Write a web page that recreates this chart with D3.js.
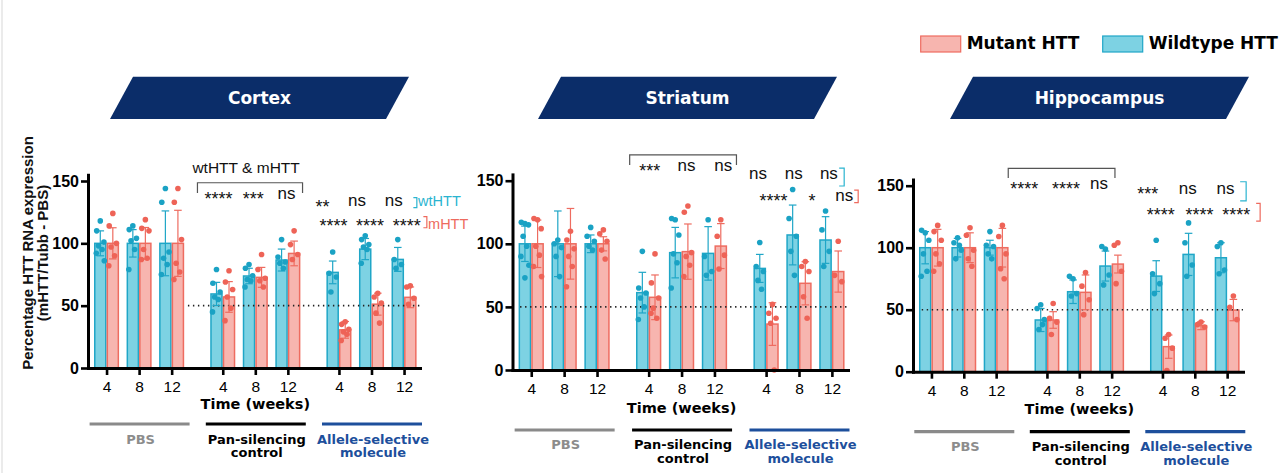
<!DOCTYPE html>
<html>
<head>
<meta charset="utf-8">
<script src="https://cdn.jsdelivr.net/npm/d3@7"></script>
<style>
  body { margin: 0; background: #fff; }
  svg { display: block; }
</style>
</head>
<body>
<svg id="chart" width="1281" height="473"></svg>
<script>
// ---------------- data ----------------
const regions = ["Cortex", "Striatum", "Hippocampus"];
const groups = ["PBS", "Pan-silencing control", "Allele-selective molecule"];
const groupLines = [["PBS"], ["Pan-silencing", "control"], ["Allele-selective", "molecule"]];
const weeks = ["4", "8", "12"];
const yTicks = [0, 50, 100, 150];
const seriesNames = ["Mutant HTT", "Wildtype HTT"];

// bar heights (mean %), one per group x week, in order PBS 4/8/12, Pan 4/8/12, Allele 4/8/12
const cortexWtMean = [100, 100, 100, 59.4, 73.8, 86.6, 76.7, 95.4, 87.1];
const cortexMutMean = [100, 100, 100, 57, 72.7, 91.9, 30.6, 51.2, 56.7];
const cortexWtSd = [10, 11, 26, 9.3, 6.2, 8.8, 9.1, 8.5, 9.6];
const cortexMutSd = [12.5, 12.7, 26.5, 12.3, 8, 9.9, 6.7, 8.8, 8.3];
const cortexWtPts = [
  [118, 110, 101, 98, 95, 92, 86], [114, 111, 104, 102, 95, 79], [144, 133, 93, 88, 83, 75],
  [79, 68, 61, 57, 55, 45], [83, 80, 74, 71, 70, 65], [103, 89, 85, 84, 80],
  [93, 76, 73, 61], [106, 103, 99, 97, 95, 84], [103, 87, 83, 80]
];
const cortexMutPts = [
  [124, 114, 100, 97, 90, 82], [119, 112, 110, 95, 88, 87], [144, 133, 103, 84, 77, 71],
  [78, 69, 63, 57, 48, 38], [91, 79, 72, 70, 65], [110, 99, 91, 87],
  [37, 35, 31, 29, 27, 22], [60, 57, 52, 44, 36], [66, 65, 56, 51]
];

const striatumWtMean = [100, 100, 100, 61.3, 93, 92.4, 80.5, 107, 103];
const striatumMutMean = [100, 100, 100, 57.6, 93.8, 98.2, 36.4, 68.7, 78];
const striatumWtSd = [14, 26, 7, 16.1, 20, 21.2, 11.1, 23.7, 18.5];
const striatumMutSd = [18.8, 28, 5.6, 17.7, 21.9, 17.8, 16.9, 17.1, 16.3];
const striatumWtPts = [
  [116, 117, 115, 106, 98, 90, 83, 73], [103, 100, 97, 90, 74], [113, 106, 102, 98, 95],
  [94, 65, 61, 57, 50, 40], [119, 120, 107, 92, 85, 65], [119, 90, 78, 75],
  [101, 82, 78, 71, 64], [143, 120, 106, 94, 75], [126, 111, 94, 82]
];
const striatumMutPts = [
  [119, 120, 112, 98, 91, 82, 74], [110, 103, 96, 90, 82, 66], [111, 108, 102, 95, 88],
  [92, 69, 57, 49, 41, 45], [130, 125, 93, 90, 83, 74], [119, 106, 91, 80],
  [52, 45, 41, 37, 0], [86, 82, 78, 58, 41], [102, 75, 70]
];

const hippocampusWtMean = [100, 100, 100, 41.7, 64.5, 85.2, 77.1, 94.6, 91.9];
const hippocampusMutMean = [100, 100, 100, 41.7, 64, 86.8, 20.2, 37.1, 49.7];
const hippocampusWtSd = [13, 7.5, 6, 9.3, 9.5, 12.1, 12.4, 17, 12.1];
const hippocampusMutSd = [14.8, 12, 15.6, 6.7, 14, 7.2, 9.4, 3.2, 8.6];
const hippocampusWtPts = [
  [112, 114, 106, 95, 81, 77], [108, 104, 98, 91, 102], [113, 102, 101, 95, 91],
  [54, 51, 42, 34, 38], [75, 77, 63, 61], [99, 101, 78, 70],
  [106, 79, 71, 63], [120, 104, 86, 77], [104, 101, 82, 79]
];
const hippocampusMutPts = [
  [118, 113, 106, 95, 87, 81], [116, 110, 98, 91, 85], [118, 109, 95, 83, 75],
  [55, 43, 40, 30], [80, 69, 58, 46], [104, 102, 81, 71],
  [30, 27, 19, 1], [40, 38, 36], [61, 52, 42]
];

// significance labels: pan-silencing vs PBS (both alleles), allele-selective wt row, allele-selective mutant row
const cortexPanSig = ["****", "***", "ns"];
const cortexWtSig = ["**", "ns", "ns"];
const cortexMutSig = ["****", "****", "****"];
const striatumPanSig = ["***", "ns", "ns"];
const striatumWtSig = ["ns", "ns", "ns"];
const striatumMutSig = ["****", "*", "ns"];
const hippocampusPanSig = ["****", "****", "ns"];
const hippocampusWtSig = ["***", "ns", "ns"];
const hippocampusMutSig = ["****", "****", "****"];

// ---------------- styles ----------------
const C = {
  wtFill: "#7dd2e3", wtStroke: "#1fa6c7", wtDot: "#1aa2c4", wtText: "#2ab4d0",
  mutFill: "#f7b5af", mutStroke: "#ee6c60", mutDot: "#ee6357", mutText: "#ee6a5e",
  navy: "#0b2d69", gray: "#8c8c8c", allele: "#1d4f9c", bracket: "#555"
};
const NUM_FONT = "'Liberation Sans', Arial, sans-serif";
const BOLD_FONT = "'DejaVu Sans', Verdana, sans-serif";

// ---------------- layout ----------------
const panels = [
  {
    name: "Cortex", left: 88, right: 420, y0: 368, y150: 181, dotFrom: 3.07,
    wtMean: cortexWtMean, mutMean: cortexMutMean, wtSd: cortexWtSd, mutSd: cortexMutSd,
    wtPts: cortexWtPts, mutPts: cortexMutPts,
    panSig: cortexPanSig, wtSig: cortexWtSig, mutSig: cortexMutSig,
    banner: { cx: 259.5 },
    under: { time: 41, line: 56, l1: 76, l2: 89 },
    ann: {
      bracket: { x1: -25.3, x2: 14.7, top: 148.6, bottom: 140.4 },
      title: { text: "wtHTT & mHTT", dx: -9.2, y: 156.6 },
      pan: { dx: [-4.3, -2, -1.3], star: 138.8, ns: 135.2 },
      wt: { dx: [-16.5, -14.5, -10.3], star: 132.6, ns: 129.9, br: [9.3, 12.8, 136.6, 128.6], label: ["wtHTT", 14, 129.9] },
      mut: { dx: [-5.5, -1.5, 2.7], star: 117.3, ns: 114, br: [19.3, 22.8, 121.4, 112.5], label: ["mHTT", 24, 111.6] }
    }
  },
  {
    name: "Striatum", left: 512.5, right: 848, y0: 370, y150: 180.7, dotFrom: 0.23,
    wtMean: striatumWtMean, mutMean: striatumMutMean, wtSd: striatumWtSd, mutSd: striatumMutSd,
    wtPts: striatumWtPts, mutPts: striatumMutPts,
    panSig: striatumPanSig, wtSig: striatumWtSig, mutSig: striatumMutSig,
    banner: { cx: 687.5 },
    under: { time: 43, line: 60, l1: 79, l2: 93 },
    ann: {
      bracket: { x1: -19, x2: 22, top: 170.4, bottom: 162.4 },
      pan: { dx: [1, 5, 8.7], star: 160.9, ns: 157.9 },
      wt: { dx: [-8, -5.3, -3], star: 154.5, ns: 151.3, br: [7.3, 12.3, 160, 145.8] },
      mut: { dx: [7.3, 13, 12.3], star: 137.3, ns: 133.9, br: [22.3, 26.3, 142.6, 132.6] }
    }
  },
  {
    name: "Hippocampus", left: 913, right: 1243, y0: 371.7, y150: 185.7, dotFrom: 0.27,
    wtMean: hippocampusWtMean, mutMean: hippocampusMutMean, wtSd: hippocampusWtSd, mutSd: hippocampusMutSd,
    wtPts: hippocampusWtPts, mutPts: hippocampusMutPts,
    panSig: hippocampusPanSig, wtSig: hippocampusWtSig, mutSig: hippocampusMutSig,
    banner: { cx: 1099.5 },
    under: { time: 42, line: 60, l1: 79, l2: 93 },
    ann: {
      bracket: { x1: -38.7, x2: 3.3, top: 164, bottom: 156.2 },
      pan: { dx: [-22.7, -13.3, -12.7], star: 150.6, ns: 147.3 },
      wt: { dx: [-14.7, -7, -1.7], star: 146.5, ns: 143.3, br: [13, 19, 153.2, 137.7] },
      mut: { dx: [-1.7, 4.7, 9], star: 129.6, ns: 126.3, br: [29, 33, 135.8, 121.5] }
    }
  }
];

const svg = d3.select("#chart");

// faint page edge on the left
svg.append("line").attr("x1", 2).attr("x2", 2).attr("y1", 0).attr("y2", 473)
  .attr("stroke", "#dedede").attr("stroke-width", 1.2);

// ---------------- legend ----------------
const legend = svg.append("g");
const legendItems = [
  { name: seriesNames[0], x: 920.7, fill: C.mutFill, stroke: C.mutStroke },
  { name: seriesNames[1], x: 1102.7, fill: C.wtFill, stroke: C.wtStroke }
];
legendItems.forEach(d => {
  legend.append("rect").attr("x", d.x).attr("y", 36).attr("width", 40).attr("height", 16)
    .attr("fill", d.fill).attr("stroke", d.stroke).attr("stroke-width", 1.2);
  legend.append("text").attr("x", d.x + 46).attr("y", 48.5)
    .attr("font-family", BOLD_FONT).attr("font-weight", "bold").attr("font-size", 17)
    .attr("fill", "#000").text(d.name);
});

// ---------------- panels ----------------
const nSlots = 9;
const lead = 0.57, gap = 0.57, span = 10.2;
const slotPos = d3.range(nSlots).map(i => lead + i + gap * Math.floor(i / 3));

panels.forEach((p, pi) => {
  const g = svg.append("g");
  const x = d3.scaleLinear().domain([0, span]).range([p.left, p.right]);
  const ppu = (p.y0 - p.y150) / 150;
  const y = d3.scaleLinear().domain([0, 155]).range([p.y0, p.y0 - 155 * ppu]);
  const barW = x(0.385) - x(0);
  const cx = i => x(slotPos[i]);

  // banner
  const b = p.banner, half = 138, slant = 11.5, top = 76.7, bot = 119;
  g.append("path")
    .attr("d", `M${b.cx - half + slant},${top}L${b.cx + half + slant},${top}L${b.cx + half - slant},${bot}L${b.cx - half - slant},${bot}Z`)
    .attr("fill", C.navy);
  g.append("text").attr("x", b.cx).attr("y", 104).attr("text-anchor", "middle")
    .attr("font-family", BOLD_FONT).attr("font-weight", "bold").attr("font-size", 17)
    .attr("fill", "#fff").text(p.name);

  // bars
  const bars = d3.range(nSlots).flatMap(i => [
    { i, v: p.wtMean[i], sd: p.wtSd[i], pts: p.wtPts[i], side: -1, fill: C.wtFill, stroke: C.wtStroke, dot: C.wtDot },
    { i, v: p.mutMean[i], sd: p.mutSd[i], pts: p.mutPts[i], side: 1, fill: C.mutFill, stroke: C.mutStroke, dot: C.mutDot }
  ]);
  const bx = d => d.side < 0 ? cx(d.i) - barW : cx(d.i);
  g.selectAll("rect.bar").data(bars).join("rect").attr("class", "bar")
    .attr("x", d => bx(d) + 0.75).attr("width", barW - 1.5)
    .attr("y", d => y(d.v)).attr("height", d => y(0) - y(d.v))
    .attr("fill", d => d.fill).attr("stroke", d => d.stroke).attr("stroke-width", 1.5);

  // 50% reference line
  g.append("line").attr("x1", x(p.dotFrom)).attr("x2", x(span)).attr("y1", y(50)).attr("y2", y(50))
    .attr("stroke", "#222").attr("stroke-width", 1.6).attr("stroke-dasharray", "1.4,3.6");

  // error bars (mean ± SD)
  const capW = 3.8;
  bars.forEach(d => {
    const mx = bx(d) + barW / 2;
    const lo = Math.max(0, d.v - d.sd), hi = d.v + d.sd;
    const eg = g.append("g").attr("stroke", d.stroke).attr("stroke-width", 1.2);
    eg.append("line").attr("x1", mx).attr("x2", mx).attr("y1", y(lo)).attr("y2", y(hi));
    eg.append("line").attr("x1", mx - capW).attr("x2", mx + capW).attr("y1", y(hi)).attr("y2", y(hi));
    eg.append("line").attr("x1", mx - capW).attr("x2", mx + capW).attr("y1", y(lo)).attr("y2", y(lo));
  });

  // individual animals
  const jitter = [0, -3.6, 3.6, -1.8, 1.8, -4, 4, 0];
  bars.forEach(d => {
    const mx = bx(d) + barW / 2;
    g.selectAll(null).data(d.pts).join("circle")
      .attr("cx", (v, k) => mx + jitter[k % jitter.length])
      .attr("cy", v => y(v)).attr("r", 2.8).attr("fill", d.dot);
  });

  // axes
  const yAxis = d3.axisLeft(y).tickValues(yTicks).tickSize(7).tickSizeOuter(0).tickPadding(2);
  const ya = g.append("g").attr("transform", `translate(${p.left},0)`).call(yAxis);
  ya.select(".domain").attr("stroke", "#000").attr("stroke-width", 3).attr("stroke-linecap", "square");
  ya.selectAll(".tick line").attr("stroke", "#000").attr("stroke-width", 2.6);
  ya.selectAll(".tick text").attr("font-family", NUM_FONT).attr("font-weight", "bold")
    .attr("font-size", 16).attr("fill", "#000");

  const xAxis = d3.axisBottom(x).tickValues(slotPos).tickFormat((v, i) => weeks[i % 3])
    .tickSize(7).tickSizeOuter(0).tickPadding(6);
  const xa = g.append("g").attr("transform", `translate(0,${p.y0})`).call(xAxis);
  xa.select(".domain").attr("stroke", "#000").attr("stroke-width", 3).attr("stroke-linecap", "square");
  xa.selectAll(".tick line").attr("stroke", "#000").attr("stroke-width", 2.6);
  xa.selectAll(".tick text").attr("font-family", NUM_FONT).attr("font-size", 15.5).attr("fill", "#000");

  // x title and treatment groups
  const u = p.under;
  g.append("text").attr("x", cx(4)).attr("y", p.y0 + u.time).attr("text-anchor", "middle")
    .attr("font-family", BOLD_FONT).attr("font-weight", "bold").attr("font-size", 14.5)
    .attr("fill", "#000").text("Time (weeks)");
  const gColors = [C.gray, "#000", C.allele];
  const lineColors = ["#8a8a8a", "#000", C.allele];
  groups.forEach((name, gi) => {
    const mid = cx(gi * 3 + 1) + 0.5;
    g.append("line").attr("x1", mid - 50).attr("x2", mid + 50)
      .attr("y1", p.y0 + u.line).attr("y2", p.y0 + u.line)
      .attr("stroke", lineColors[gi]).attr("stroke-width", 3.2);
    groupLines[gi].forEach((ln, li) => {
      g.append("text").attr("x", mid + 1).attr("y", p.y0 + (li === 0 ? u.l1 : u.l2))
        .attr("text-anchor", "middle").attr("font-family", BOLD_FONT).attr("font-weight", "bold")
        .attr("font-size", 13).attr("fill", gColors[gi]).text(ln);
    });
  });

  // significance annotations
  const a = p.ann;
  const sig = (txt, xx, row) => {
    const stars = txt.indexOf("*") >= 0;
    g.append("text").attr("x", xx).attr("y", stars ? y(row.star) + 10.4 : y(row.ns))
      .attr("text-anchor", "middle").attr("font-family", NUM_FONT)
      .attr("font-size", stars ? 18 : 17).attr("fill", "#111").text(txt);
  };
  g.append("path")
    .attr("d", `M${cx(3) + a.bracket.x1},${y(a.bracket.bottom)}V${y(a.bracket.top)}H${cx(5) + a.bracket.x2}V${y(a.bracket.bottom)}`)
    .attr("fill", "none").attr("stroke", C.bracket).attr("stroke-width", 1.2);
  if (a.title) {
    g.append("text").attr("x", cx(4) + a.title.dx).attr("y", y(a.title.y)).attr("text-anchor", "middle")
      .attr("font-family", NUM_FONT).attr("font-size", 15.5).attr("fill", "#111").text(a.title.text);
  }
  p.panSig.forEach((t, k) => sig(t, cx(3 + k) + a.pan.dx[k], a.pan));
  p.wtSig.forEach((t, k) => sig(t, cx(6 + k) + a.wt.dx[k], a.wt));
  p.mutSig.forEach((t, k) => sig(t, cx(6 + k) + a.mut.dx[k], a.mut));

  [[a.wt, C.wtText], [a.mut, C.mutText]].forEach(([row, col]) => {
    const [d1, d2, t1, t2] = row.br;
    g.append("path")
      .attr("d", `M${cx(8) + d1},${y(t1)}H${cx(8) + d2}V${y(t2)}H${cx(8) + d1}`)
      .attr("fill", "none").attr("stroke", col).attr("stroke-width", 1.2);
    if (row.label) {
      g.append("text").attr("x", cx(8) + row.label[1]).attr("y", y(row.label[2]))
        .attr("font-family", NUM_FONT).attr("font-size", 14.5).attr("fill", col).text(row.label[0]);
    }
  });

  // y-axis title (first panel only)
  if (pi === 0) {
    const yt = g.append("text").attr("transform", `translate(33,253) rotate(-90)`)
      .attr("text-anchor", "middle").attr("font-family", NUM_FONT).attr("font-weight", "bold")
      .attr("font-size", 15).attr("fill", "#111");
    yt.append("tspan").attr("x", 0).attr("y", 0).text("Percentage HTT RNA expression");
    yt.append("tspan").attr("x", 0).attr("y", 15).text("(mHTT/Tubb - PBS)");
  }
});
</script>
</body>
</html>
